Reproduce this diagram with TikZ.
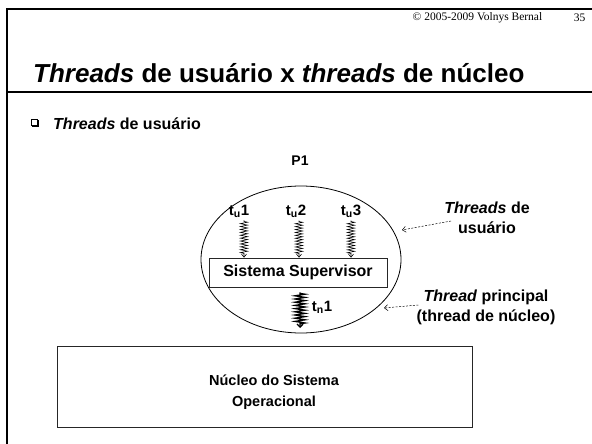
\documentclass[tikz,border=0pt]{standalone}
\usepackage{fontspec}
\setmainfont{Liberation Sans}
\newfontfamily\crfont{Liberation Serif}
\usetikzlibrary{shapes.geometric,decorations.pathmorphing,arrows.meta}
\begin{document}
\begin{tikzpicture}[x=1pt,y=-1pt,
  frameline/.style={line width=2pt,black},
  lbl/.style={font=\bfseries\fontsize{16}{20}\selectfont,align=center,inner sep=0pt},
  tlbl/.style={font=\bfseries\fontsize{15}{18}\selectfont,inner sep=0pt},
  boxy/.style={draw=black!85,line width=0.8pt,rectangle,inner sep=0pt},
  thinspring/.style={decorate,decoration={zigzag,amplitude=3.6pt,segment length=2.9pt,pre length=1pt,post length=4pt},line width=0.6pt,-{Straight Barb[length=3pt,width=5pt]}},
  thickspring/.style={decorate,decoration={zigzag,amplitude=5pt,segment length=3.2pt,pre length=1pt,post length=4pt},line width=1.3pt,-{Straight Barb[length=3pt,width=6pt]}},
  dasharrow/.style={dashed,dash pattern=on 2pt off 1.5pt,line width=0.5pt,-{Straight Barb[length=3.5pt,width=6pt]}}
]
\useasboundingbox (0,0) rectangle (592,444);
% frame
\draw[frameline] (7,444) -- (7,9) -- (592,9);
\draw[frameline] (7,92) -- (592,92);
% header
\node[inner sep=0pt,font=\crfont\fontsize{11.5}{13}\selectfont] (copy) at (477.5,18) {© 2005-2009 Volnys Bernal};
\node[inner sep=0pt,font=\crfont\fontsize{11.5}{13}\selectfont] (pg) at (579.5,18) {35};
% title
\node[anchor=base west,inner sep=0pt,font=\bfseries\fontsize{26}{30}\selectfont] (title) at (33,83) {\textit{Threads} de usuário x \textit{threads} de núcleo};
% bullet
\node[draw=black,line width=0.6pt,minimum size=6.5pt,inner sep=0pt] (chk) at (34.5,122.5) {};
\draw[line width=1.2pt] (chk.south west) ++(1.2,0.8) -- ([shift={(0.8,0.8)}]chk.south east) -- ([shift={(0.8,1.2)}]chk.north east);
\node[anchor=base west,inner sep=0pt,font=\bfseries\fontsize{16}{20}\selectfont] (bul) at (53,129) {\textit{Threads} de usuário};
% process
\node[tlbl,font=\bfseries\fontsize{14}{16}\selectfont] (p1) at (300,161) {P1};
\node[draw=black,line width=0.8pt,ellipse,minimum width=200pt,minimum height=147pt,inner sep=0pt] (proc) at (301,259.5) {};
\node[boxy,minimum width=178pt,minimum height=29pt,font=\bfseries\fontsize{16}{20}\selectfont] (sup) at (298,272.5) {Sistema Supervisor};
\node[tlbl] (tu1) at (239,211) {t\textsubscript{u}1};
\node[tlbl] (tu2) at (296,211) {t\textsubscript{u}2};
\node[tlbl] (tu3) at (351,211) {t\textsubscript{u}3};
\draw[thinspring] ([shift={(5,3)}]tu1.south) -- ([xshift=5pt]tu1.south |- sup.north);
\draw[thinspring] ([shift={(3,3)}]tu2.south) -- ([xshift=3pt]tu2.south |- sup.north);
\draw[thinspring] ([shift={(0,3)}]tu3.south) -- (tu3.south |- sup.north);
\coordinate (tnend) at (300,328);
\draw[thickspring] ([yshift=-5pt]sup.south -| tnend) -- (tnend);
\node[tlbl] (tn1) at (322,307) {t\textsubscript{n}1};
% right labels
\node[lbl] (lab1) at (487,218) {\textit{Threads} de\\usuário};
\node[lbl] (lab2) at (486,307) {\textit{Thread} principal\\(thread de núcleo)};
\coordinate (a1) at (402,230);
\coordinate (a2) at (384,308);
\draw[dasharrow] ([shift={(7,3)}]lab1.west) -- (a1);
\draw[dasharrow] ([shift={(2,-2)}]lab2.west) -- (a2);
% kernel
\node[boxy,minimum width=415pt,minimum height=81pt] (kern) at (264.5,386.5) {};
\node[lbl,font=\bfseries\fontsize{14.5}{21}\selectfont] (kt) at (274,392) {Núcleo do Sistema\\Operacional};
\end{tikzpicture}
\end{document}
